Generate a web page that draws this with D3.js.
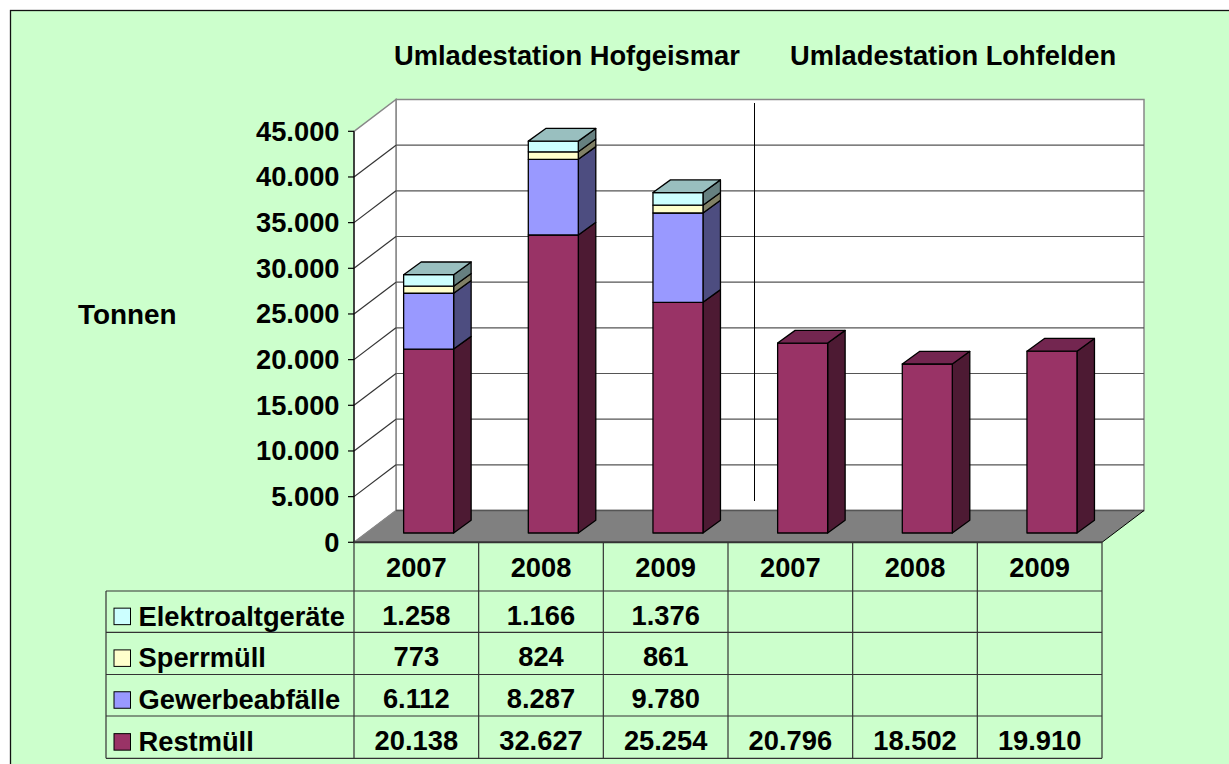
<!DOCTYPE html>
<html><head><meta charset="utf-8"><script src="https://cdn.jsdelivr.net/npm/d3@7"></script>
<style>html,body{margin:0;padding:0;background:#fff;overflow:hidden}svg{display:block}text{font-family:"Liberation Sans",Arial,sans-serif;font-weight:bold;fill:#000}</style></head>
<body><svg id="c" width="1229" height="764"></svg>
<script>
const years=["2007","2008","2009","2007","2008","2009"];
const seriesNames=["Restmüll","Gewerbeabfälle","Sperrmüll","Elektroaltgeräte"];
const restmuell=[20138,32627,25254,20796,18502,19910];
const gewerbe=[6112,8287,9780,null,null,null];
const sperr=[773,824,861,null,null,null];
const elektro=[1258,1166,1376,null,null,null];
const yTicks=[0,5000,10000,15000,20000,25000,30000,35000,40000,45000];
const colors=["#993366","#9999ff","#ffffcc","#ccffff"];
const sideColors=["#4d1a33","#4d4d80","#808066","#668080"];
const topColors=["#993366","#9999ff","#ffffcc","#99bfbf"];
const values=[restmuell,gewerbe,sperr,elektro];
const fmt=v=>v==null?"":d3.format(",")(v).replace(/,/g,".");
const FS=27.3;

const svg=d3.select("#c");
const bg="#ccffcc";
svg.append("rect").attr("x",10.5).attr("y",10.5).attr("width",1240).attr("height",780).attr("fill",bg).attr("stroke","#111").attr("stroke-width",1.3);

const x=d3.scaleBand().domain(d3.range(6)).range([354,1102]);
const y=d3.scaleLinear().domain([0,45000]).range([542.3,131.3]);
const depth=[42,-31.8];
const barDepth=[17.5,-12.7], barOff=[12.3,-9.3], barW=50;

// walls
const poly=(pts,fill,stroke,sw)=>svg.append("polygon").attr("points",pts.map(p=>p.join(",")).join(" ")).attr("fill",fill).attr("stroke",stroke||"none").attr("stroke-width",sw||0);
const x0=354,xR=1102,yB=y(0),yT=y(45000);
poly([[x0+depth[0],yB+depth[1]],[xR+depth[0],yB+depth[1]],[xR+depth[0],yT+depth[1]],[x0+depth[0],yT+depth[1]]],"#fff","#888",1.5);
poly([[x0,yB],[x0+depth[0],yB+depth[1]],[x0+depth[0],yT+depth[1]],[x0,yT]],"#fff","#888",1.5);
yTicks.slice(1,-1).forEach(t=>{
  svg.append("line").attr("x1",x0).attr("y1",y(t)).attr("x2",x0+depth[0]).attr("y2",y(t)+depth[1]).attr("stroke","#333").attr("stroke-width",1.2);
  svg.append("line").attr("x1",x0+depth[0]).attr("y1",y(t)+depth[1]).attr("x2",xR+depth[0]).attr("y2",y(t)+depth[1]).attr("stroke","#555").attr("stroke-width",1.2);
});
poly([[x0,yB],[xR,yB],[xR+depth[0],yB+depth[1]],[x0+depth[0],yB+depth[1]]],"#808080");
svg.append("line").attr("x1",x0+depth[0]).attr("y1",yB+depth[1]).attr("x2",xR+depth[0]).attr("y2",yB+depth[1]).attr("stroke","#555").attr("stroke-width",1.5);
svg.append("line").attr("x1",xR).attr("y1",yB).attr("x2",xR+depth[0]).attr("y2",yB+depth[1]).attr("stroke","#000").attr("stroke-width",1);
svg.append("line").attr("x1",x0).attr("y1",yB).attr("x2",x0+depth[0]).attr("y2",yB+depth[1]).attr("stroke","#888").attr("stroke-width",1);

// divider
svg.append("line").attr("x1",754.5).attr("x2",754.5).attr("y1",103).attr("y2",501).attr("stroke","#000");

// bars
d3.range(6).forEach(i=>{
  const xl=x(i)+(x.bandwidth()-barW)/2+barOff[0];
  let acc=0;
  const segs=[];
  values.forEach((s,k)=>{ if(s[i]!=null){segs.push({k,a:acc,b:acc+s[i]});acc+=s[i];} });
  const g=svg.append("g").attr("stroke","#000").attr("stroke-width",1.3).attr("stroke-linejoin","round");
  segs.forEach((s,idx)=>{
    const ya=y(s.a)+barOff[1], yb=y(s.b)+barOff[1];
    g.append("polygon").attr("points",[[xl+barW,ya],[xl+barW+barDepth[0],ya+barDepth[1]],[xl+barW+barDepth[0],yb+barDepth[1]],[xl+barW,yb]].join(" ")).attr("fill",sideColors[s.k]);
    g.append("rect").attr("x",xl).attr("y",yb).attr("width",barW).attr("height",ya-yb).attr("fill",colors[s.k]);
    if(idx===segs.length-1){
      g.append("polygon").attr("points",[[xl,yb],[xl+barDepth[0],yb+barDepth[1]],[xl+barW+barDepth[0],yb+barDepth[1]],[xl+barW,yb]].join(" ")).attr("fill",s.k===0?"#732650":topColors[s.k]);
    }
  });
});

// axis
svg.append("line").attr("x1",x0).attr("x2",x0).attr("y1",yT).attr("y2",yB).attr("stroke","#000").attr("stroke-width",1.2);
yTicks.forEach(t=>{
  svg.append("line").attr("x1",x0-6).attr("x2",x0).attr("y1",y(t)).attr("y2",y(t)).attr("stroke","#000").attr("stroke-width",1.2);
  svg.append("text").attr("x",x0-14.5).attr("y",y(t)+9.5).attr("text-anchor","end").attr("font-size",FS).text(fmt(t));
});

// titles
svg.append("text").attr("x",394).attr("y",65).attr("font-size",FS).text("Umladestation Hofgeismar");
svg.append("text").attr("x",790).attr("y",65).attr("font-size",FS).text("Umladestation Lohfelden");
svg.append("text").attr("x",78).attr("y",324).attr("font-size",27.9).text("Tonnen");

// table
const rowY=[542.3,591,632.3,674.5,716,758.3];
const xL=106;
const T=svg.append("g").attr("stroke","#333").attr("stroke-width",1.2);
d3.range(7).forEach(i=>{const xx=i<6?x(i):xR;T.append("line").attr("x1",xx).attr("x2",xx).attr("y1",542).attr("y2",758.3);});
T.append("line").attr("x1",xL).attr("x2",xL).attr("y1",591).attr("y2",758.3);
rowY.forEach((r,i)=>T.append("line").attr("x1",i===0?x0:xL).attr("x2",xR).attr("y1",r).attr("y2",r).attr("stroke-width",i===0?2:1.2));
years.forEach((yr,i)=>svg.append("text").attr("x",x(i)+x.bandwidth()/2).attr("y",577).attr("text-anchor","middle").attr("font-size",FS).text(yr));
[3,2,1,0].forEach((k,ri)=>{
  const top=rowY[ri+1], bot=rowY[ri+2], by=(top+bot)/2+14;
  svg.append("rect").attr("x",114).attr("y",top+(bot-top)/2-3.5).attr("width",16.5).attr("height",16.5).attr("fill",colors[k]).attr("stroke","#000");
  svg.append("text").attr("x",138.5).attr("y",by).attr("font-size",FS).text(seriesNames[k]);
  values[k].forEach((v,i)=>svg.append("text").attr("x",x(i)+x.bandwidth()/2).attr("y",by-1).attr("text-anchor","middle").attr("font-size",FS).text(fmt(v)));
});
</script></body></html>
